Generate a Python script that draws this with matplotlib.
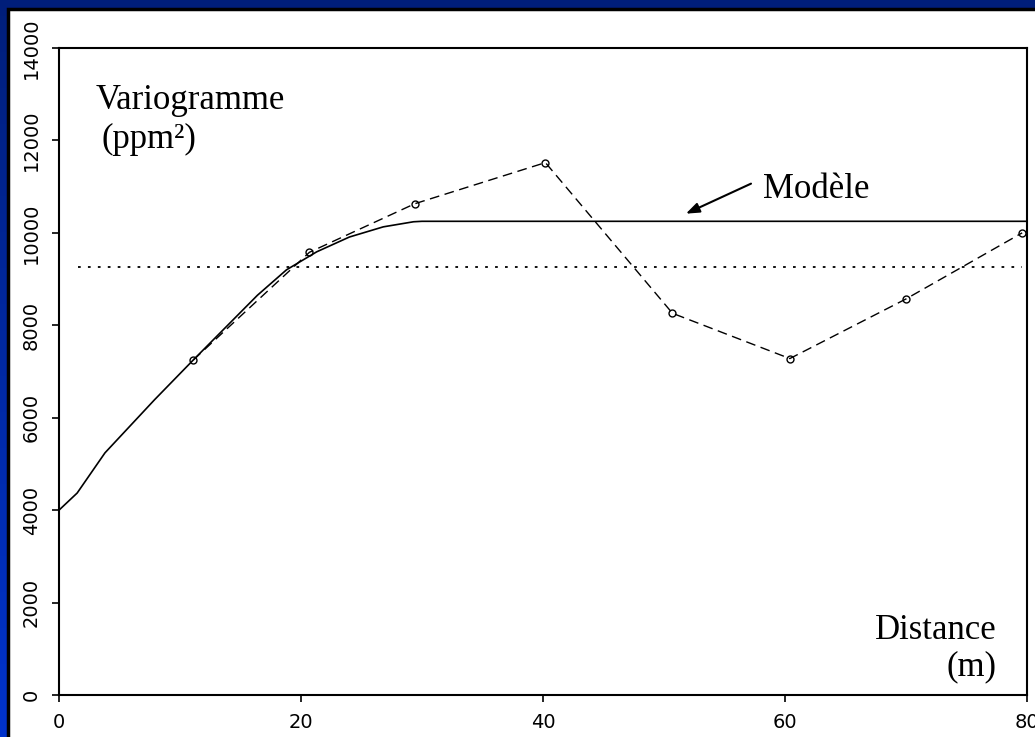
import numpy as np
import matplotlib
matplotlib.use("Agg")
import matplotlib.pyplot as plt
from matplotlib.patches import Rectangle

# Variogramme expérimental (distance en m, valeur en ppm^2)
dist_exp = [11.1, 20.7, 29.4, 40.2, 50.7, 60.4, 70.0, 79.6]
gamma_exp = [7250, 9580, 10630, 11520, 8260, 7280, 8570, 10000]

# Modèle ajusté (effet de pépite + palier)
dist_mod = [0, 1.5, 3.8, 7.9, 11.1, 16.4, 18.8, 21.3, 24.0, 26.8, 29.3, 30.0, 80.0]
gamma_mod = [4000, 4370, 5240, 6390, 7250, 8650, 9200, 9590, 9910, 10130, 10240, 10250, 10250]

# Variance des données
variance = 9260

x_ticks = [0, 20, 40, 60, 80]
y_ticks = [0, 2000, 4000, 6000, 8000, 10000, 12000, 14000]

fig = plt.figure(figsize=(10.35, 7.37), dpi=100)

# Fond bleu dégradé
bg = fig.add_axes([0, 0, 1, 1], zorder=-10)
grad = np.linspace(0, 1, 256).reshape(-1, 1)
top = np.array([0.0, 0.12, 0.48])
bot = np.array([0.0, 0.20, 0.80])
img = top + grad[..., None] * (bot - top)
bg.imshow(img, aspect="auto", extent=[0, 1, 0, 1], origin="upper")
bg.set_axis_off()

# Panneau blanc avec bord noir
fig.patches.append(Rectangle((8 / 1035, -0.05), 1.1, (737 - 9) / 737 + 0.05,
                             transform=fig.transFigure, facecolor="white",
                             edgecolor="black", linewidth=2.5, zorder=-5))

ax = fig.add_axes([59 / 1035, 42 / 737, 968 / 1035, 647 / 737])
ax.set_facecolor("white")

ax.plot(dist_mod, gamma_mod, color="black", linewidth=1.2)
ax.plot(dist_exp, gamma_exp, color="black", linewidth=1.0, linestyle=(0, (7, 4)),
        marker="o", markersize=5, markerfacecolor="none", markeredgewidth=1.0)
ax.axhline(variance, xmin=0.02, xmax=0.995, color="black", linewidth=1.3,
           linestyle=(0, (1.5, 4)))

ax.set_xlim(0, 80)
ax.set_ylim(0, 14000)
ax.set_xticks(x_ticks)
ax.set_yticks(y_ticks)

tick_font = ["Liberation Sans Narrow", "DejaVu Sans"]
ax.set_xticklabels([str(v) for v in x_ticks], family=tick_font, fontsize=14)
ax.set_yticklabels([str(v) for v in y_ticks], family=tick_font, fontsize=14,
                   rotation=90, va="center")
ax.tick_params(direction="out", length=5, width=1.2, pad=8)
for s in ax.spines.values():
    s.set_linewidth(1.5)

serif = "Liberation Serif"
ax.text(3.0, 12870, "Variogramme", family=serif, fontsize=25, va="center", ha="left")
ax.text(3.5, 12030, "(ppm²)", family=serif, fontsize=25, va="center", ha="left")
ax.text(62.6, 10930, "Modèle", family=serif, fontsize=25, va="center", ha="center")
ax.text(77.5, 1400, "Distance", family=serif, fontsize=25, va="center", ha="right")
ax.text(77.5, 600, "(m)", family=serif, fontsize=25, va="center", ha="right")

ax.annotate("", xy=(51.6, 10390), xytext=(57.4, 11090),
            arrowprops=dict(arrowstyle="-|>,head_length=0.8,head_width=0.3",
                            color="black", linewidth=1.5))

fig.savefig("out.png", dpi=100)
plt.close(fig)
